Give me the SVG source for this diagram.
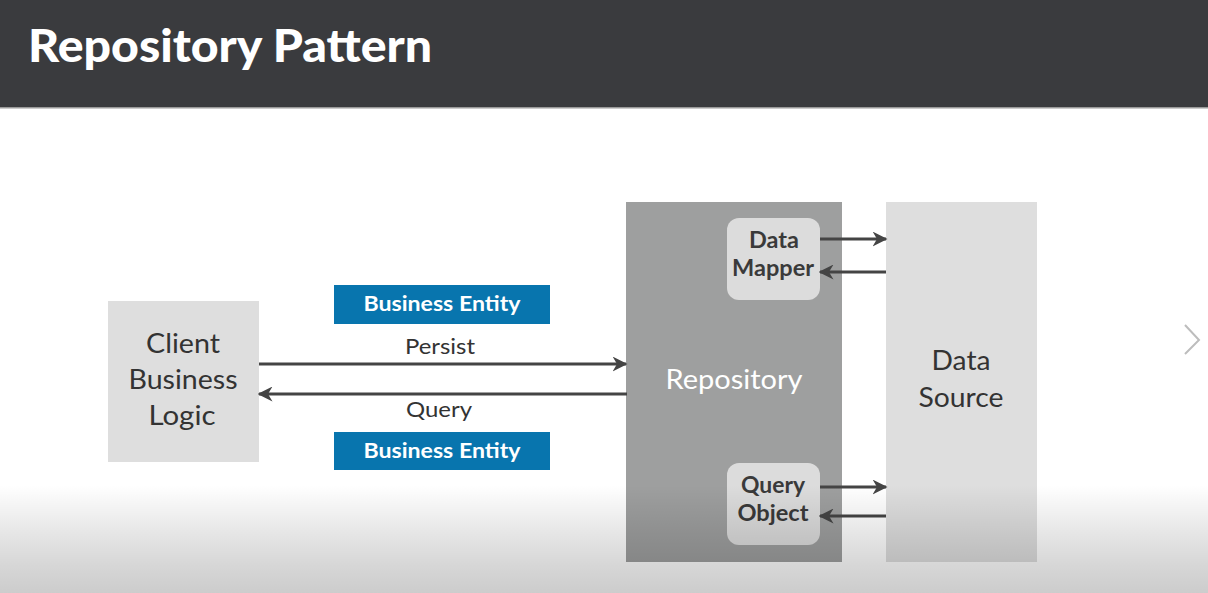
<svg xmlns="http://www.w3.org/2000/svg" width="1208" height="593" viewBox="0 0 1208 593">
<defs>
<style>
.t{font-family:Lato,"Open Sans","Liberation Sans",sans-serif}
.big{font-size:27px;fill:#333;text-anchor:middle}
.lbl{font-size:21px;fill:#333;text-anchor:middle}
.ent{font-size:21px;font-weight:700;fill:#fff;text-anchor:middle}
.sub{font-size:22px;font-weight:700;fill:#3a3a3a;text-anchor:middle}
.conn line{stroke:#444;stroke-width:3}
</style>
<marker id="ah" viewBox="0 0 10 10" refX="9" refY="5" markerWidth="5" markerHeight="5" orient="auto" markerUnits="strokeWidth">
<path d="M0,0 L10,5 L0,10 L3,5 Z" fill="#444"/>
</marker>
<linearGradient id="shade" x1="0" y1="0" x2="0" y2="1">
<stop offset="0" stop-color="#000" stop-opacity="0"/>
<stop offset="0.45" stop-color="#000" stop-opacity="0.1"/>
<stop offset="0.75" stop-color="#000" stop-opacity="0.16"/>
<stop offset="1" stop-color="#000" stop-opacity="0.2"/>
</linearGradient>
</defs>
<rect x="0" y="0" width="1208" height="593" fill="#fff"/>
<g id="header">
<rect x="0" y="0" width="1208" height="107" fill="#3a3b3e"/>
<rect x="0" y="107" width="1208" height="1.5" fill="#9a9a9a"/>
<text class="t" x="28" y="62" font-size="45" font-weight="900" fill="#fff" textLength="404" lengthAdjust="spacingAndGlyphs">Repository Pattern</text>
</g>
<g id="client">
<rect x="108" y="301" width="151" height="161" fill="#dedede"/>
<text class="t big" x="183" y="353" textLength="74" lengthAdjust="spacingAndGlyphs">Client</text>
<text class="t big" x="183" y="389" textLength="109" lengthAdjust="spacingAndGlyphs">Business</text>
<text class="t big" x="182" y="425" textLength="67" lengthAdjust="spacingAndGlyphs">Logic</text>
</g>
<g id="entity-top">
<rect x="334" y="285" width="216" height="39" fill="#0875ae"/>
<text class="t ent" x="442" y="311" textLength="157" lengthAdjust="spacingAndGlyphs">Business Entity</text>
</g>
<g id="entity-bottom">
<rect x="334" y="432" width="216" height="38" fill="#0875ae"/>
<text class="t ent" x="442" y="458" textLength="157" lengthAdjust="spacingAndGlyphs">Business Entity</text>
</g>
<g id="repository">
<rect x="626" y="202" width="216" height="360" fill="#9e9f9f"/>
<text class="t" x="734" y="389" font-size="27" fill="#fff" text-anchor="middle" textLength="137" lengthAdjust="spacingAndGlyphs">Repository</text>
</g>
<g id="data-mapper">
<rect x="727" y="218" width="93" height="82" rx="12" fill="#dcdcdc"/>
<text class="t sub" x="774" y="248" textLength="50" lengthAdjust="spacingAndGlyphs">Data</text>
<text class="t sub" x="773" y="276" textLength="82" lengthAdjust="spacingAndGlyphs">Mapper</text>
</g>
<g id="query-object">
<rect x="727" y="463" width="93" height="82" rx="12" fill="#dcdcdc"/>
<text class="t sub" x="773" y="493" textLength="64" lengthAdjust="spacingAndGlyphs">Query</text>
<text class="t sub" x="773" y="521" textLength="71" lengthAdjust="spacingAndGlyphs">Object</text>
</g>
<g id="data-source">
<rect x="886" y="202" width="151" height="360" fill="#dedede"/>
<text class="t big" x="961" y="370" textLength="59" lengthAdjust="spacingAndGlyphs">Data</text>
<text class="t big" x="961" y="407" textLength="85" lengthAdjust="spacingAndGlyphs">Source</text>
</g>
<g class="conn" id="connectors">
<line x1="259" y1="364" x2="626" y2="364" marker-end="url(#ah)"/>
<line x1="627" y1="394" x2="259" y2="394" marker-end="url(#ah)"/>
<line x1="820" y1="239" x2="886" y2="239" marker-end="url(#ah)"/>
<line x1="886" y1="272" x2="820" y2="272" marker-end="url(#ah)"/>
<line x1="820" y1="487" x2="886" y2="487" marker-end="url(#ah)"/>
<line x1="886" y1="516" x2="820" y2="516" marker-end="url(#ah)"/>
</g>
<g id="labels">
<text class="t lbl" x="440" y="354" textLength="70" lengthAdjust="spacingAndGlyphs">Persist</text>
<text class="t lbl" x="439" y="417" textLength="66" lengthAdjust="spacingAndGlyphs">Query</text>
</g>
<path d="M1185,325 L1199,340 L1185,354" fill="none" stroke="#bdbdbd" stroke-width="2"/>
<rect x="0" y="485" width="1208" height="108" fill="url(#shade)"/>
</svg>
